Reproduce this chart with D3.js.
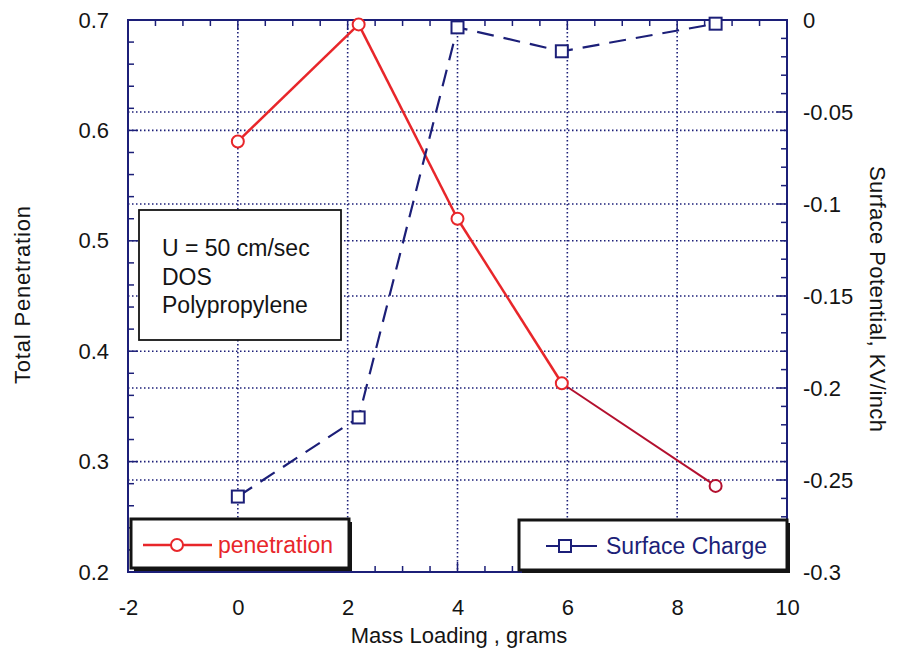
<!DOCTYPE html>
<html>
<head>
<meta charset="utf-8">
<script src="https://cdn.jsdelivr.net/npm/d3@7"></script>
<style>
  body { margin: 0; background: #fff; }
  svg { font-family: "Liberation Sans", Arial, sans-serif; }
</style>
</head>
<body>
<svg id="chart" width="899" height="656"></svg>
<script>
// mass loading, grams
const massLoading = [0, 2.2, 4, 5.9, 8.7];
// total penetration (left axis)
const penetration = [0.59, 0.696, 0.52, 0.371, 0.278];
// surface potential, KV/inch (right axis)
const surfaceCharge = [-0.259, -0.216, -0.004, -0.017, -0.002];

const xTicks = [-2, 0, 2, 4, 6, 8, 10];
const yLeftTicks = [0.2, 0.3, 0.4, 0.5, 0.6, 0.7];
const yRightTicks = [-0.3, -0.25, -0.2, -0.15, -0.1, -0.05, 0];
const noteLines = ["U = 50 cm/sec", "DOS", "Polypropylene"];

const navy = "#1c1f78";
const red = "#e8262a";
const darkRed = "#b3102e";
const ink = "#141414";

const svg = d3.select("#chart");
const pLeft = 128, pRight = 787, pTop = 20, pBottom = 572;

const x = d3.scaleLinear().domain([-2, 10]).range([pLeft, pRight]);
const yL = d3.scaleLinear().domain([0.2, 0.7]).range([pBottom, pTop]);
const yR = d3.scaleLinear().domain([-0.3, 0]).range([pBottom, pTop]);

// grid
const grid = svg.append("g")
  .attr("stroke", navy).attr("stroke-width", 1.6).attr("stroke-dasharray", "1.5,2.5");
xTicks.slice(1, -1).forEach(t => {
  grid.append("line").attr("x1", x(t)).attr("x2", x(t)).attr("y1", pTop).attr("y2", pBottom);
});
yLeftTicks.slice(1, -1).forEach(t => {
  grid.append("line").attr("x1", pLeft).attr("x2", pRight).attr("y1", yL(t)).attr("y2", yL(t));
});
yRightTicks.slice(1, -1).forEach(t => {
  grid.append("line").attr("x1", pLeft).attr("x2", pRight).attr("y1", yR(t)).attr("y2", yR(t));
});

// frame
svg.append("rect")
  .attr("x", pLeft).attr("y", pTop).attr("width", pRight - pLeft).attr("height", pBottom - pTop)
  .attr("fill", "none").attr("stroke", navy).attr("stroke-width", 2);

// inward ticks
const ticks = svg.append("g").attr("stroke", navy).attr("stroke-width", 1.5);
d3.range(-2, 10.01, 0.5).forEach(t => {
  const len = Number.isInteger(t / 2) ? 10 : 6;
  ticks.append("line").attr("x1", x(t)).attr("x2", x(t)).attr("y1", pBottom).attr("y2", pBottom - len);
  ticks.append("line").attr("x1", x(t)).attr("x2", x(t)).attr("y1", pTop).attr("y2", pTop + len);
});
d3.range(0.2, 0.7001, 0.02).forEach(t => {
  const len = Math.abs(t * 10 - Math.round(t * 10)) < 1e-6 ? 10 : 6;
  ticks.append("line").attr("x1", pLeft).attr("x2", pLeft + len).attr("y1", yL(t)).attr("y2", yL(t));
});
d3.range(-0.3, 0.0001, 0.01).forEach(t => {
  const len = Math.abs(t * 20 - Math.round(t * 20)) < 1e-6 ? 10 : 6;
  ticks.append("line").attr("x1", pRight).attr("x2", pRight - len).attr("y1", yR(t)).attr("y2", yR(t));
});

// tick labels via d3 axes
const plain = d => String(+d.toFixed(2));
const xAxis = svg.append("g")
  .attr("transform", `translate(0,${pBottom})`)
  .call(d3.axisBottom(x).tickValues(xTicks).tickSize(0).tickPadding(27).tickFormat(plain));
const yLAxis = svg.append("g")
  .attr("transform", `translate(${pLeft},0)`)
  .call(d3.axisLeft(yL).tickValues(yLeftTicks).tickSize(0).tickPadding(19).tickFormat(d3.format(".1f")));
const yRAxis = svg.append("g")
  .attr("transform", `translate(${pRight},0)`)
  .call(d3.axisRight(yR).tickValues(yRightTicks).tickSize(0).tickPadding(16).tickFormat(plain));
[xAxis, yLAxis, yRAxis].forEach(a => {
  a.select(".domain").remove();
  a.selectAll("text").attr("font-size", 22).attr("fill", ink)
    .attr("font-family", "'Liberation Sans', Arial, sans-serif");
});

// axis titles
svg.append("text").attr("x", 459).attr("y", 643).attr("text-anchor", "middle")
  .attr("font-size", 22).attr("fill", ink).text("Mass Loading , grams");
svg.append("text").attr("transform", "translate(30,295) rotate(-90)").attr("text-anchor", "middle")
  .attr("font-size", 22).attr("fill", ink).attr("textLength", 178).text("Total Penetration");
svg.append("text").attr("transform", "translate(870,299) rotate(90)").attr("text-anchor", "middle")
  .attr("font-size", 22).attr("fill", ink).attr("textLength", 266).text("Surface Potential, KV/inch");

// penetration series
const pts = massLoading.map((m, i) => ({ m, p: penetration[i], s: surfaceCharge[i] }));
for (let i = 0; i < pts.length - 1; i++) {
  svg.append("line")
    .attr("x1", x(pts[i].m)).attr("y1", yL(pts[i].p))
    .attr("x2", x(pts[i + 1].m)).attr("y2", yL(pts[i + 1].p))
    .attr("stroke", i < 3 ? red : darkRed).attr("stroke-width", i < 3 ? 2.5 : 2);
}
svg.selectAll("circle.pen").data(pts).enter().append("circle")
  .attr("class", "pen")
  .attr("cx", d => x(d.m)).attr("cy", d => yL(d.p)).attr("r", 6)
  .attr("fill", "white").attr("stroke", (d, i) => i < 4 ? red : darkRed).attr("stroke-width", 2);

// surface charge series
const line = d3.line().x(d => x(d.m)).y(d => yR(d.s));
svg.append("path").datum(pts).attr("d", line)
  .attr("fill", "none").attr("stroke", navy).attr("stroke-width", 2.2)
  .attr("stroke-dasharray", "17,10");
svg.selectAll("rect.sc").data(pts).enter().append("rect")
  .attr("class", "sc")
  .attr("x", d => x(d.m) - 6).attr("y", d => yR(d.s) - 6).attr("width", 12).attr("height", 12)
  .attr("fill", "white").attr("stroke", navy).attr("stroke-width", 2);

// note box
svg.append("rect").attr("x", 139).attr("y", 210).attr("width", 202).attr("height", 130)
  .attr("fill", "white").attr("stroke", ink).attr("stroke-width", 1.8);
svg.selectAll("text.note").data(noteLines).enter().append("text")
  .attr("class", "note")
  .attr("x", 162).attr("y", (d, i) => 256 + i * 28.5)
  .attr("font-size", 23).attr("fill", ink).text(d => d);

// legends
function legendBox(x0, y0, w, h) {
  svg.append("rect").attr("x", x0 + 3).attr("y", y0 + 3).attr("width", w).attr("height", h).attr("fill", ink);
  svg.append("rect").attr("x", x0).attr("y", y0).attr("width", w).attr("height", h)
    .attr("fill", "white").attr("stroke", ink).attr("stroke-width", 3);
}
legendBox(131, 519, 218, 49);
svg.append("line").attr("x1", 143).attr("x2", 212).attr("y1", 545).attr("y2", 545)
  .attr("stroke", red).attr("stroke-width", 2.5);
svg.append("circle").attr("cx", 177).attr("cy", 545).attr("r", 6)
  .attr("fill", "white").attr("stroke", red).attr("stroke-width", 2);
svg.append("text").attr("x", 218).attr("y", 553).attr("font-size", 23).attr("fill", red).text("penetration");

legendBox(519, 520, 268, 50);
svg.append("line").attr("x1", 546).attr("x2", 597).attr("y1", 546).attr("y2", 546)
  .attr("stroke", navy).attr("stroke-width", 2.2);
svg.append("rect").attr("x", 559).attr("y", 540).attr("width", 12).attr("height", 12)
  .attr("fill", "white").attr("stroke", navy).attr("stroke-width", 2);
svg.append("text").attr("x", 606).attr("y", 554).attr("font-size", 23).attr("fill", navy).text("Surface Charge");
</script>
</body>
</html>
